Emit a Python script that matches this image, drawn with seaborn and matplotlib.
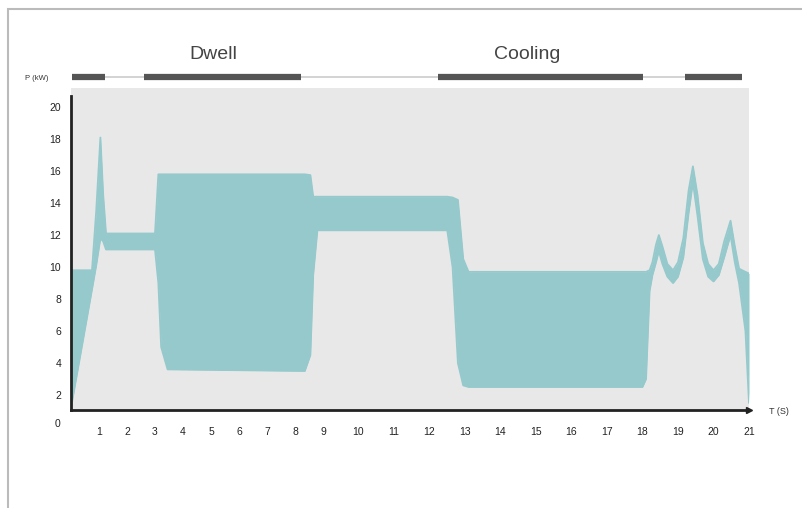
import numpy as np
import pandas as pd
import seaborn as sns
import matplotlib.pyplot as plt
from matplotlib.patches import Rectangle

# --- data ---
t = [0.0, 0.75, 0.9, 1.05, 1.15, 1.25, 3.0, 3.12, 3.22, 3.45,
     8.35, 8.55, 8.65, 8.8, 12.5, 12.65, 12.8, 12.95, 13.1, 18.0,
     18.1, 18.2, 18.28, 18.38, 18.46, 18.56, 18.7, 18.86, 19.0, 19.15,
     19.3, 19.42, 19.55, 19.7, 19.85, 20.0, 20.15, 20.3, 20.48, 20.6,
     20.72, 20.9, 21.0]
p_upper = [9.8, 9.8, 13.5, 18.1, 14.5, 12.1, 12.1, 15.8, 15.8, 15.8,
           15.8, 15.75, 14.4, 14.4, 14.4, 14.35, 14.2, 10.5, 9.7, 9.7,
           9.7, 9.8, 10.3, 11.4, 12.0, 11.3, 10.2, 9.8, 10.3, 11.8,
           14.8, 16.3, 14.5, 11.5, 10.2, 9.8, 10.2, 11.6, 12.9, 11.3,
           9.9, 9.7, 9.6]
p_lower = [1.2, 8.6, 10.1, 11.8, 11.6, 11.1, 11.1, 9.0, 5.0, 3.6,
           3.5, 4.5, 9.5, 12.3, 12.3, 10.0, 4.0, 2.6, 2.5, 2.5,
           3.0, 8.5, 9.5, 10.3, 11.0, 10.2, 9.4, 9.0, 9.4, 10.6,
           13.4, 15.3, 13.2, 10.5, 9.4, 9.1, 9.5, 10.6, 12.0, 10.3,
           9.0, 6.0, 1.5]

x_ticks = list(range(1, 22))
y_ticks = list(range(2, 21, 2))

phase_start = [0.05, 2.6, 12.25, 19.2]
phase_end = [1.2, 8.2, 18.0, 20.8]
phase_names = ["Dwell", "Cooling"]
phase_name_t = [5.1, 14.75]

df = pd.DataFrame({"t": t, "upper": p_upper, "lower": p_lower})

# time axis is stretched after 9 s in the original
x_break = [0, 9, 21]
x_disp = [0, 9, 9 + 12 * 35.5 / 28]


def fwd(x):
    return np.interp(x, x_break, x_disp)


def inv(x):
    return np.interp(x, x_disp, x_break)


sns.set_theme(style="white", rc={"axes.facecolor": "#e8e8e8"})
plt.rcParams["font.family"] = ["Liberation Sans", "DejaVu Sans"]

fig = plt.figure(figsize=(8.02, 5.08), dpi=100)
ax = fig.add_axes([71 / 802, 1 - 410 / 508, 678 / 802, 322 / 508])
ax.set_xscale("function", functions=(fwd, inv))

band = "#95c9cc"
ax.fill_between(df["t"], df["lower"], df["upper"], color=band, lw=0)
sns.lineplot(data=df, x="t", y="upper", ax=ax, color=band, lw=1.3)
sns.lineplot(data=df, x="t", y="lower", ax=ax, color=band, lw=1.3)

ax.set_xlim(0, 21)
ax.set_ylim(1.06, 21.2)
ax.set_xticks(x_ticks)
ax.set_xticklabels([str(v) for v in x_ticks])
ax.set_yticks(y_ticks)
ax.set_yticklabels([str(v) for v in y_ticks])
ax.tick_params(axis="both", length=0, labelsize=7.5, labelcolor="#222222")
ax.tick_params(axis="x", pad=12)
ax.tick_params(axis="y", pad=7)
ax.set_xlabel("")
ax.set_ylabel("")

for s in ["top", "right"]:
    ax.spines[s].set_visible(False)
ax.spines["left"].set_color("#222222")
ax.spines["left"].set_linewidth(2)
ax.spines["left"].set_bounds(1.06, 20.7)
ax.spines["bottom"].set_color("#222222")
ax.spines["bottom"].set_linewidth(2)
ax.plot([1.0], [0.0], marker=">", ms=5, color="#222222",
        transform=ax.transAxes, clip_on=False)

# origin and axis labels
ax.text(-0.02, -0.045, "0", transform=ax.transAxes, ha="center", va="center",
        fontsize=7.5, color="#222222")
ax.text(-0.05, 1.03, "P (kW)", transform=ax.transAxes, ha="center", va="center",
        fontsize=5.5, color="#333333")
ax.text(1.03, -0.005, "T (S)", transform=ax.transAxes, ha="left", va="center",
        fontsize=6.5, color="#333333")

# phase bar on top
bar_y = 21.9
ax.hlines(bar_y, 0.05, 20.8, color="#cccccc", lw=1.2, clip_on=False)
ax.hlines([bar_y] * len(phase_start), phase_start, phase_end, color="#555555",
          lw=4.5, clip_on=False)
for name, tx in zip(phase_names, phase_name_t):
    ax.text(tx, 23.3, name, ha="center", va="center", fontsize=14,
            color="#444444", clip_on=False)

# outer frame of the picture
fig.patches.append(Rectangle((8 / 802, -0.05), 1.1, 1.05 - 9 / 508,
                             transform=fig.transFigure, fill=False,
                             ec="#bbbbbb", lw=1.5))

fig.savefig("out.png", dpi=100)
